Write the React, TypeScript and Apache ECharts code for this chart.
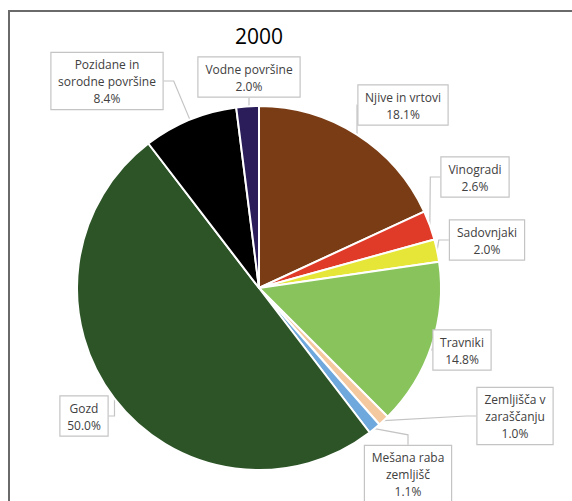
import React, { useEffect, useRef } from "react";
import * as echarts from "echarts";

const titleText = "2000";
const categories = [
  "Njive in vrtovi",
  "Vinogradi",
  "Sadovnjaki",
  "Travniki",
  "Zemljišča v\nzaraščanju",
  "Mešana raba\nzemljišč",
  "Gozd",
  "Pozidane in\nsorodne površine",
  "Vodne površine",
];
const values = [18.1, 2.6, 2.0, 14.8, 1.0, 1.1, 50.0, 8.4, 2.0];
const colors = [
  "#7a3c15",
  "#e03a28",
  "#e6e639",
  "#88c35c",
  "#f5c9a0",
  "#6fa8dc",
  "#2c5427",
  "#000000",
  "#2a1d5a",
];
// label box centres (layout only)
const labelPos: [number, number][] = [
  [403, 105],
  [475, 177],
  [487, 240],
  [462, 350],
  [515, 416],
  [408, 474],
  [84, 416],
  [107, 81],
  [249, 77],
];

const FONT = "12px 'Open Sans'";

function lines(i: number): string[] {
  return [...categories[i].split("\n"), `${values[i].toFixed(1)}%`];
}

export default function App() {
  const ref = useRef<HTMLDivElement>(null);
  useEffect(() => {
    document.body.style.margin = "0";
    const ctx = document.createElement("canvas").getContext("2d")!;
    ctx.font = FONT;
    const widths = categories.map((_, i) =>
      Math.ceil(Math.max(...lines(i).map((s) => ctx.measureText(s).width))) + 1
    );
    const chart = echarts.init(ref.current!, null, { renderer: "svg" });
    chart.setOption({
      animation: false,
      backgroundColor: "#ffffff",
      title: {
        text: titleText,
        left: 254,
        top: 20,
        textAlign: "center",
        textStyle: {
          fontFamily: "Open Sans",
          fontSize: 21,
          fontWeight: "normal",
          color: "#000",
        },
      },
      graphic: [
        {
          type: "rect",
          shape: { x: 9, y: 11, width: 800, height: 800 },
          style: { fill: "none", stroke: "#6a6a6a", lineWidth: 2 },
          silent: true,
        },
      ],
      series: [
        {
          type: "pie",
          center: [259, 288],
          radius: 182,
          startAngle: 90,
          clockwise: true,
          avoidLabelOverlap: false,
          itemStyle: { borderColor: "#ffffff", borderWidth: 2 },
          data: categories.map((c, i) => ({
            name: c,
            value: values[i],
            itemStyle: { color: colors[i] },
            label: {
              rich: {
                t: {
                  fontFamily: "Open Sans",
                  fontSize: 12,
                  lineHeight: 17,
                  color: "#404040",
                  align: "center",
                  width: widths[i],
                },
              },
            },
          })),
          label: {
            show: true,
            position: "outside",
            formatter: (p: any) =>
              lines(p.dataIndex)
                .map((s) => `{t|${s}}`)
                .join("\n"),
            fontFamily: "Open Sans",
            fontSize: 12,
            lineHeight: 17,
            color: "#404040",
            backgroundColor: "#ffffff",
            borderColor: "#c4c4c4",
            borderWidth: 1.2,
            padding: [3, 6, 2, 6],
          },
          labelLine: {
            show: true,
            length: 10,
            length2: 10,
            lineStyle: { color: "#c4c4c4", width: 1.2 },
          },
          labelLayout: (params: any) => {
            const pos = labelPos[params.dataIndex];
            return {
              x: pos[0],
              y: pos[1],
              align: "center",
              verticalAlign: "middle",
            };
          },
        },
      ],
    });
    return () => chart.dispose();
  }, []);
  return <div ref={ref} style={{ width: 572, height: 501 }} />;
}
